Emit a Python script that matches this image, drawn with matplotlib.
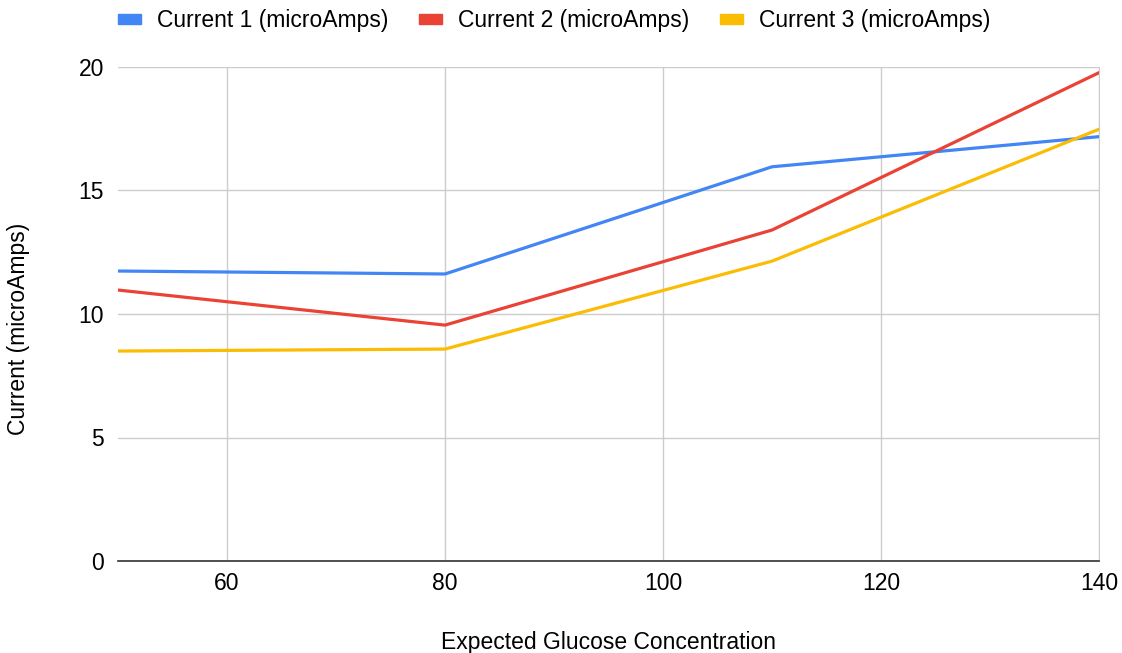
import matplotlib
matplotlib.use("Agg")
import matplotlib.pyplot as plt
from matplotlib.patches import Patch

glucose = [50, 80, 110, 140]
current1 = [11.74, 11.62, 15.96, 17.18]
current2 = [10.97, 9.55, 13.40, 19.77]
current3 = [8.50, 8.58, 12.14, 17.48]
series_names = ["Current 1 (microAmps)", "Current 2 (microAmps)", "Current 3 (microAmps)"]
colors = ["#4285F4", "#EA4335", "#FBBC04"]
xticks = [60, 80, 100, 120, 140]
yticks = [0, 5, 10, 15, 20]

plt.rcParams['font.family'] = ['Liberation Sans', 'DejaVu Sans']
FS = 16.5

fig = plt.figure(figsize=(11.22, 6.53), dpi=100)
ax = fig.add_axes([118/1122, 1-561/653, (1099-118)/1122, (561-67)/653])

for ys, c in zip([current1, current2, current3], colors):
    ax.plot(glucose, ys, color=c, lw=2.3, solid_joinstyle='round', zorder=3)

ax.set_xlim(50, 140)
ax.set_ylim(0, 20)
ax.set_xticks(xticks)
ax.set_yticks(yticks)
ax.grid(True, color="#cccccc", lw=1.0, zorder=0)
for s in ["top", "left"]:
    ax.spines[s].set_visible(False)
ax.spines["right"].set_color("#cccccc")
ax.spines["bottom"].set_color("#333333")
ax.spines["bottom"].set_linewidth(1.2)
ax.tick_params(length=0, labelsize=FS, colors="#000000")
ax.tick_params(axis='x', pad=8)
ax.tick_params(axis='y', pad=10)
ax.set_xlabel("Expected Glucose Concentration", fontsize=FS, va='center')
ax.set_ylabel("Current (microAmps)", fontsize=FS, va='center')
ax.xaxis.set_label_coords(0.5 * (1.0) + (608 - 608) / 981, (561 - 642) / 494)
ax.yaxis.set_label_coords((19 - 118) / 981, 0.5 - (329 - 314) / 494)

handles = [Patch(color=c) for c in colors]
fig.legend(handles, series_names, loc="center", bbox_to_anchor=(0.494, 1 - 20.5/653), ncol=3,
           frameon=False, fontsize=FS, handlelength=1.0, handleheight=0.33,
           handletextpad=0.7, columnspacing=1.35, borderpad=0, borderaxespad=0)

fig.savefig("out.png", dpi=100)
